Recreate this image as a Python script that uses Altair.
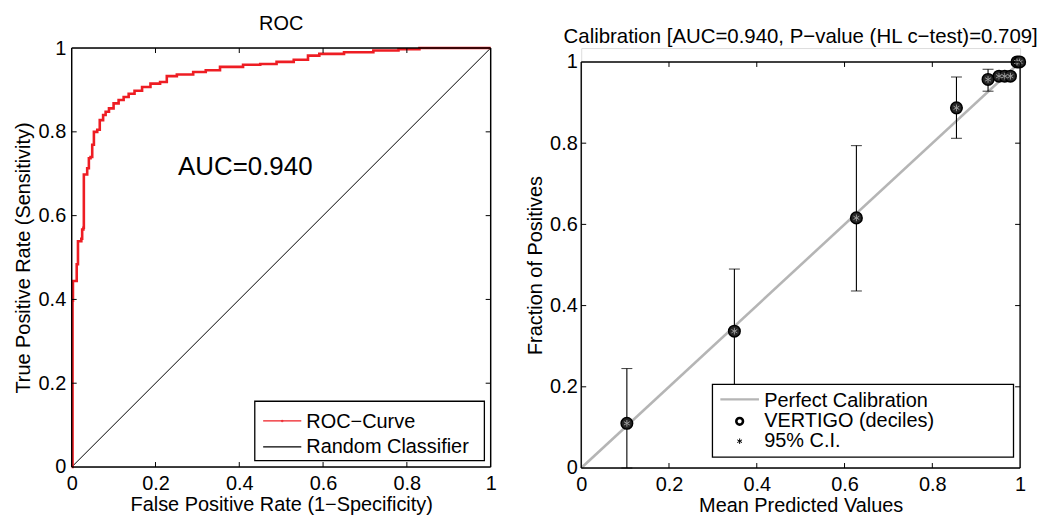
import altair as alt
import pandas as pd

FONT = "Liberation Sans"

# ---------------- data ----------------
roc_fpr = [0.0, 0.002, 0.003, 0.012, 0.015, 0.023, 0.025, 0.028, 0.029, 0.037, 0.041, 0.045,
           0.049, 0.053, 0.061, 0.067, 0.075, 0.081, 0.089, 0.100, 0.112, 0.124, 0.136, 0.150,
           0.168, 0.188, 0.211, 0.227, 0.251, 0.290, 0.320, 0.354, 0.409, 0.450, 0.489, 0.530,
           0.564, 0.591, 0.650, 0.720, 0.780, 0.830, 1.000]
roc_tpr = [0.0, 0.397, 0.444, 0.484, 0.539, 0.545, 0.567, 0.571, 0.698, 0.713, 0.737, 0.740,
           0.769, 0.800, 0.805, 0.828, 0.840, 0.848, 0.856, 0.868, 0.876, 0.883, 0.891, 0.898,
           0.907, 0.915, 0.919, 0.933, 0.937, 0.943, 0.947, 0.955, 0.960, 0.962, 0.967, 0.972,
           0.982, 0.986, 0.990, 0.994, 0.997, 1.000, 1.000]

cal_pred = [0.104, 0.349, 0.627, 0.855, 0.927, 0.952, 0.965, 0.978, 0.993, 0.999]
cal_obs = [0.110, 0.337, 0.616, 0.887, 0.957, 0.965, 0.965, 0.965, 1.000, 1.000]
cal_lo = [0.000, 0.190, 0.436, 0.812, 0.928, 0.959, 0.959, 0.959, 0.994, 0.994]
cal_hi = [0.245, 0.490, 0.794, 0.963, 0.982, 0.971, 0.971, 0.971, 1.000, 1.000]

tick_vals = [0, 0.2, 0.4, 0.6, 0.8, 1]
inner_ticks = [0.2, 0.4, 0.6, 0.8]

roc_title = "ROC"
cal_title = "Calibration [AUC=0.940, P\u2212value (HL c\u2212test)=0.709]"
auc_label = "AUC=0.940"
roc_legend = ["ROC\u2212Curve", "Random Classifier"]
cal_legend = ["Perfect Calibration", "VERTIGO (deciles)", "95% C.I."]

# ---------------- helpers ----------------
def frame_df():
    return pd.DataFrame({
        "x": [0, 1, 0, 0], "x2": [1, 1, 0, 1],
        "y": [1, 0, 0, 0], "y2": [1, 1, 1, 0],
    })


def ticks_df(tx, ty):
    rows = []
    for t in inner_ticks:
        rows.append({"x": t, "x2": t, "y": 0, "y2": ty})
        rows.append({"x": t, "x2": t, "y": 1, "y2": 1 - ty})
        rows.append({"x": 0, "x2": tx, "y": t, "y2": t})
        rows.append({"x": 1, "x2": 1 - tx, "y": t, "y2": t})
    return pd.DataFrame(rows)


def make_axes(xtitle, ytitle, ylabpad, ytitlepad, ytitle_y=None):
    xax = alt.Axis(values=tick_vals, format=".1~f", title=xtitle, grid=False, ticks=False,
                   domain=False, labelFlush=False, labelPadding=7, titlePadding=1,
                   labelFontSize=20, titleFontSize=20, titleFontWeight="normal",
                   labelColor="black", titleColor="black", labelFont=FONT, titleFont=FONT)
    yargs = dict(values=tick_vals, format=".1~f", title=ytitle, grid=False, ticks=False,
                 domain=False, labelFlush=False, labelPadding=ylabpad, titlePadding=ytitlepad,
                 labelFontSize=20, titleFontSize=20, titleFontWeight="normal",
                 labelColor="black", titleColor="black", labelFont=FONT, titleFont=FONT)
    if ytitle_y is not None:
        yargs["titleY"] = ytitle_y
    return xax, alt.Axis(**yargs)


# ---------------- left: ROC ----------------
W1, H1 = 421, 421
xs1 = alt.Scale(domain=[0, 1], nice=False, zero=False)
ys1 = alt.Scale(domain=[0, 1], nice=False, zero=False)
xax1, yax1 = make_axes("False Positive Rate (1\u2212Specificity)",
                       "True Positive Rate (Sensitivity)", 6, 5)


def X1(f="x"):
    return alt.X(f"{f}:Q", scale=xs1, axis=xax1)


def Y1(f="y"):
    return alt.Y(f"{f}:Q", scale=ys1, axis=yax1)


diag1 = alt.Chart(pd.DataFrame({"x": [0, 1], "y": [0, 1]})).mark_line(
    color="black", strokeWidth=1).encode(x=X1(), y=Y1())

roc_df = pd.DataFrame({"x": roc_fpr, "y": roc_tpr, "i": list(range(len(roc_fpr)))})
roc_line = alt.Chart(roc_df).mark_line(color="#ee1d23", strokeWidth=2.6,
                                       interpolate="step-after").encode(
    x=X1(), y=Y1(), order="i:Q")

frame1 = alt.Chart(frame_df()).mark_rule(color="black", strokeWidth=1.4).encode(
    x=X1(), x2="x2:Q", y=Y1(), y2="y2:Q")
ticks1 = alt.Chart(ticks_df(5 / W1, 5 / H1)).mark_rule(color="black", strokeWidth=1).encode(
    x=X1(), x2="x2:Q", y=Y1(), y2="y2:Q")

auc_txt = alt.Chart(pd.DataFrame({"x": [0.254], "y": [0.698], "t": [auc_label]})).mark_text(
    align="left", baseline="alphabetic", fontSize=26, font=FONT, color="black").encode(
    x=X1(), y=Y1(), text="t:N")

leg1_box = alt.Chart(pd.DataFrame({"x": [0.437], "x2": [0.985], "y": [0.015], "y2": [0.157]})).mark_rect(
    fill="white", stroke="black", strokeWidth=1.3).encode(x=X1(), x2="x2:Q", y=Y1(), y2="y2:Q")
leg1_lines = alt.Chart(pd.DataFrame({"x": [0.457, 0.457], "x2": [0.548, 0.548],
                                     "y": [0.110, 0.048], "c": ["#ee1d23", "black"]})).mark_rule(
    strokeWidth=1.2).encode(x=X1(), x2="x2:Q", y=Y1(), color=alt.Color("c:N", scale=None))
leg1_dot = alt.Chart(pd.DataFrame({"x": [0.5025], "y": [0.110]})).mark_point(
    filled=True, color="#ee1d23", size=6, shape="circle").encode(x=X1(), y=Y1())
leg1_txt = alt.Chart(pd.DataFrame({"x": [0.560, 0.560], "y": [0.094, 0.0325],
                                   "t": roc_legend})).mark_text(
    align="left", baseline="alphabetic", fontSize=20, font=FONT, color="black").encode(
    x=X1(), y=Y1(), text="t:N")

left = alt.layer(diag1, roc_line, frame1, ticks1, auc_txt, leg1_box, leg1_lines, leg1_dot,
                 leg1_txt).properties(
    width=W1, height=H1,
    title=alt.Title(roc_title, fontSize=20, fontWeight="normal", font=FONT, color="black",
                    offset=4, anchor="middle"))

# ---------------- right: calibration ----------------
W2, H2 = 441, 422
PH2 = 408  # height of the framed area
ytop2 = H2 / PH2
xs2 = alt.Scale(domain=[0, 1], nice=False, zero=False)
ys2 = alt.Scale(domain=[0, ytop2], nice=False, zero=False)
xax2, yax2 = make_axes("Mean Predicted Values", "Fraction of Positives", 4, 4,
                       ytitle_y=(H2 - PH2) + PH2 / 2)


def X2(f="x"):
    return alt.X(f"{f}:Q", scale=xs2, axis=xax2)


def Y2(f="y"):
    return alt.Y(f"{f}:Q", scale=ys2, axis=yax2)


diag2 = alt.Chart(pd.DataFrame({"x": [0, 1], "y": [0, 1]})).mark_line(
    color="#b5b5b5", strokeWidth=2.6).encode(x=X2(), y=Y2())

cal_df = pd.DataFrame({"x": cal_pred, "y": cal_obs, "lo": cal_lo, "hi": cal_hi})
err = alt.Chart(cal_df).mark_rule(color="black", strokeWidth=1.1).encode(
    x=X2(), y=Y2("lo"), y2="hi:Q")
cap_lo = alt.Chart(cal_df).mark_tick(color="black", thickness=1.1, size=11,
                                     orient="horizontal").encode(x=X2(), y=Y2("lo"))
cap_hi = alt.Chart(cal_df).mark_tick(color="black", thickness=1.1, size=11,
                                     orient="horizontal").encode(x=X2(), y=Y2("hi"))

ASTER = "M0,-1L0,1M-0.87,-0.5L0.87,0.5M-0.87,0.5L0.87,-0.5"
pts = alt.Chart(cal_df).mark_point(shape="circle", filled=True, fill="#262626", stroke="black",
                                   strokeWidth=1.5, size=135, opacity=1).encode(x=X2(), y=Y2())
aster = alt.Chart(cal_df).mark_point(shape=ASTER, filled=False, stroke="#9a9a9a",
                                     strokeWidth=1, size=45, opacity=1).encode(x=X2(), y=Y2())

frame2 = alt.Chart(frame_df()).mark_rule(color="black", strokeWidth=1.4).encode(
    x=X2(), x2="x2:Q", y=Y2(), y2="y2:Q")
ticks2 = alt.Chart(ticks_df(5 / W2, 5 / PH2)).mark_rule(color="black", strokeWidth=1).encode(
    x=X2(), x2="x2:Q", y=Y2(), y2="y2:Q")

leg2_box = alt.Chart(pd.DataFrame({"x": [0.299], "x2": [0.985], "y": [0.027], "y2": [0.206]})).mark_rect(
    fill="white", stroke="black", strokeWidth=1.3).encode(x=X2(), x2="x2:Q", y=Y2(), y2="y2:Q")
leg2_line = alt.Chart(pd.DataFrame({"x": [0.317], "x2": [0.405], "y": [0.169]})).mark_rule(
    color="#b5b5b5", strokeWidth=2.2).encode(x=X2(), x2="x2:Q", y=Y2())
leg2_circ = alt.Chart(pd.DataFrame({"x": [0.361], "y": [0.115]})).mark_point(
    shape="circle", filled=False, stroke="black", strokeWidth=2.6, size=45, opacity=1).encode(
    x=X2(), y=Y2())
leg2_ast = alt.Chart(pd.DataFrame({"x": [0.361], "y": [0.066]})).mark_point(
    shape=ASTER, filled=False, stroke="black", strokeWidth=1, size=30, opacity=1).encode(
    x=X2(), y=Y2())
leg2_txt = alt.Chart(pd.DataFrame({"x": [0.417] * 3, "y": [0.150, 0.101, 0.052],
                                   "t": cal_legend})).mark_text(
    align="left", baseline="alphabetic", fontSize=20, font=FONT, color="black").encode(
    x=X2(), y=Y2(), text="t:N")

right = alt.layer(diag2, err, cap_lo, cap_hi, pts, aster, frame2, ticks2, leg2_box, leg2_line,
                  leg2_circ, leg2_ast, leg2_txt).properties(
    width=W2, height=H2,
    title=alt.Title(cal_title, fontSize=20.5, fontWeight="normal", font=FONT, color="black",
                    offset=1, anchor="middle"))

chart = alt.hconcat(left, right, spacing=27).properties(
    padding={"left": 4, "top": 4, "right": 0, "bottom": 0}
).configure_view(stroke=None).configure(font=FONT)

chart.save("out.html", embed_options={"renderer": "svg", "actions": False})
